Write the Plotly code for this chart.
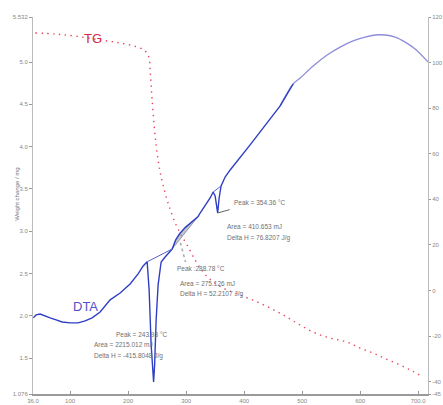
import plotly.graph_objects as go

# ---- TG curve: temperature (°C) vs sample weight (mg) ----
tg_temp = [40, 74.1, 108.6, 151.7, 186.2, 220.7, 231.0, 236.2, 237.9, 239.7, 241.4,
           244.8, 248.3, 251.7, 255.2, 260.3, 267.2, 274.1, 282.8, 291.4, 301.7,
           315.5, 329.3, 344.8, 367.2, 393.1, 418.9, 444.8, 470.7, 496.6, 522.4,
           548.3, 577.6, 600.0, 622.4, 644.8, 669.0, 689.7, 708.6]
tg_mass = [5.343, 5.331, 5.307, 5.260, 5.225, 5.165, 5.118, 5.047, 4.905, 4.728, 4.551,
           4.255, 4.019, 3.842, 3.700, 3.546, 3.369, 3.227, 3.073, 2.955, 2.837,
           2.660, 2.518, 2.411, 2.317, 2.246, 2.175, 2.092, 1.998, 1.891, 1.797,
           1.737, 1.690, 1.619, 1.560, 1.489, 1.418, 1.348, 1.277]

# ---- DTA curve: temperature (°C) vs signal (µV) ----
dta_temp = [36.5, 41.4, 48.3, 55.2, 65.5, 75.9, 86.2, 100, 113.8, 125.9, 137.9, 151.7,
            169.0, 186.2, 203.4, 217.2, 225.9, 232.8, 236.2, 239.7, 243.93, 245.7,
            248.3, 251.7, 256.9, 263.8, 270.0, 275.9, 282.0, 288.78, 298.3, 306.9,
            315.5, 320.7, 324.1, 332.8, 341.4, 346.6, 350.0, 354.36, 356.9, 360.3,
            367.2, 375.9, 393.1, 410.3, 427.6, 444.8, 462.1, 484.5]
dta_signal = [-12.0, -10.7, -10.3, -11.1, -12.0, -12.9, -13.8, -14.2, -14.2, -13.3, -12.0, -9.4,
              -4.1, -1.1, 2.9, 7.3, 10.8, 12.6, 0.3, -23.9, -40.1, -32.6,
              -12.9, 2.5, 12.5, 14.7, 16.5, 18.2, 22.2, 24.9, 27.6, 29.6,
              31.4, 32.5, 34.0, 37.1, 40.6, 43.2, 41.5, 34.0, 40.6, 45.9,
              49.8, 52.9, 58.2, 63.9, 69.6, 75.3, 81.0, 90.6]

# high-temperature part of the DTA run
dta_hi_temp = [462.1, 484.5, 496.6, 519.0, 543.1, 565.5, 587.9, 608.6, 625.9, 643.1,
               660.3, 677.6, 694.8, 717.0]
dta_hi_signal = [81.0, 90.6, 93.2, 98.5, 103.3, 106.8, 109.5, 111.2, 112.1, 112.1,
                 111.2, 109.0, 106.0, 100.3]

# integration baselines (start/end temperature, start/end signal)
base1_temp, base1_signal = [232.8, 275.9], [12.6, 18.2]
base2_temp, base2_signal = [275.9, 320.7], [18.2, 32.5]
base3_temp, base3_signal = [346.6, 360.3], [43.2, 45.9]

# peak evaluation results
peak_labels = [
    ["Peak = 243.93 °C", "Area = 2215.012 mJ", "Delta H = -415.8048 J/g"],
    ["Peak :288.78 °C", "Area = 275.126 mJ", "Delta H = 52.2107 J/g"],
    ["Peak = 354.36 °C", "Area = 410.653 mJ", "Delta H = 76.8207 J/g"],
]

# axis ranges and tick labels
x_range = [36.0, 717.0]
x_ticks = [36.0, 100, 200, 300, 400, 500, 600, 700]
x_ticktext = ["36.0", "100", "200", "300", "400", "500", "600", "700.0"]
mg_range = [1.076, 5.532]
mg_ticks = [1.076, 1.5, 2.0, 2.5, 3.0, 3.5, 4.0, 4.5, 5.0, 5.532]
mg_ticktext = ["1.076", "1.5", "2.0", "2.5", "3.0", "3.5", "4.0", "4.5", "5.0", "5.532"]
uv_range = [-45.4, 120.0]
uv_ticks = [-45.4, -40, -20, 0, 20, 40, 60, 80, 100, 120]
uv_ticktext = ["-45", "-40", "-20", "0", "20", "40", "60", "80", "100", "120"]

DARK_BLUE = "#2f3fc4"
LIGHT_BLUE = "#8c8cdc"
RED = "#e8445c"

fig = go.Figure()

# shaded area of the 288.78 °C peak (baseline first, curve fills to it)
sel = [i for i, t in enumerate(dta_temp) if base2_temp[0] <= t <= base2_temp[1]]
fig.add_trace(go.Scatter(x=base2_temp, y=base2_signal, yaxis="y2", mode="lines",
                         line=dict(color="#9a9aa8", width=1), hoverinfo="skip"))
fig.add_trace(go.Scatter(x=[dta_temp[i] for i in sel], y=[dta_signal[i] for i in sel],
                         yaxis="y2", mode="lines", line=dict(color="rgba(0,0,0,0)", width=0),
                         fill="tonexty", fillcolor="rgba(150,150,165,0.55)", hoverinfo="skip"))

# TG (dotted red)
fig.add_trace(go.Scatter(x=tg_temp, y=tg_mass, mode="lines",
                         line=dict(color=RED, width=1.4, dash="1.4px,4.5px", shape="spline")))

# DTA
fig.add_trace(go.Scatter(x=dta_hi_temp, y=dta_hi_signal, yaxis="y2", mode="lines",
                         line=dict(color=LIGHT_BLUE, width=1.3, shape="spline")))
fig.add_trace(go.Scatter(x=dta_temp, y=dta_signal, yaxis="y2", mode="lines",
                         line=dict(color=DARK_BLUE, width=1.4)))

# baselines
for bt, bs in [(base1_temp, base1_signal), (base3_temp, base3_signal)]:
    fig.add_trace(go.Scatter(x=bt, y=bs, yaxis="y2", mode="lines",
                             line=dict(color="#5a64c8", width=1), hoverinfo="skip"))

# pointer lines to the peak labels
fig.add_shape(type="line", xref="x", yref="y2", x0=354.36, y0=34.0, x1=375.0, y1=35.5,
              line=dict(color="#666", width=1))
fig.add_shape(type="line", xref="x", yref="y2", x0=290.0, y0=21.0, x1=299.0, y1=12.5,
              line=dict(color="#aaa", width=1.5, dash="dot"))

# peak texts (paper coordinates)
label_pos = [
    [(0.205, 0.159), (0.150, 0.130), (0.150, 0.101)],
    [(0.360, 0.334), (0.368, 0.293), (0.368, 0.264)],
    [(0.504, 0.507), (0.486, 0.443), (0.486, 0.414)],
]
for texts, poss in zip(peak_labels, label_pos):
    for txt, (px, py) in zip(texts, poss):
        fig.add_annotation(text=txt, x=px, y=py, xref="paper", yref="paper",
                           xanchor="left", yanchor="middle", showarrow=False,
                           font=dict(family="Liberation Sans", size=6.5, color="#707070"))

# curve names
fig.add_annotation(text="TG", x=0.124, y=0.968, xref="paper", yref="paper",
                   showarrow=False, font=dict(family="Liberation Sans", size=13, color="#d42a48"))
fig.add_annotation(text="DTA", x=0.096, y=0.207, xref="paper", yref="paper",
                   showarrow=False, font=dict(family="Liberation Sans", size=13, color="#5252c8"))

# left axis title
fig.add_annotation(text="Weight change / mg", x=-0.052, y=0.53, xref="paper", yref="paper",
                   textangle=-90, showarrow=False,
                   font=dict(family="Liberation Sans", size=6, color="#777"))

tickfont = dict(family="Liberation Sans", size=6, color="#888")
fig.update_layout(
    width=443, height=405,
    margin=dict(l=33, r=15, t=17, b=11),
    paper_bgcolor="white", plot_bgcolor="white",
    showlegend=False,
    xaxis=dict(range=x_range, tickvals=x_ticks, ticktext=x_ticktext, showgrid=False,
               zeroline=False, showline=True, linecolor="#9a9a9a", linewidth=2,
               ticks="inside", ticklen=3, tickcolor="#999", tickfont=tickfont,
               tickangle=0, automargin=False),
    yaxis=dict(range=mg_range, tickvals=mg_ticks, ticktext=mg_ticktext, showgrid=False,
               zeroline=False, showline=True, linecolor="#bbbbbb", linewidth=1,
               ticks="outside", ticklen=3, tickcolor="#999", tickfont=tickfont,
               automargin=False),
    yaxis2=dict(range=uv_range, tickvals=uv_ticks, ticktext=uv_ticktext, overlaying="y",
                side="right", showgrid=False, zeroline=False, showline=True,
                linecolor="#bbbbbb", linewidth=1, ticks="outside", ticklen=2,
                tickcolor="#999", tickfont=tickfont, automargin=False),
)

fig.write_html("out.html")
